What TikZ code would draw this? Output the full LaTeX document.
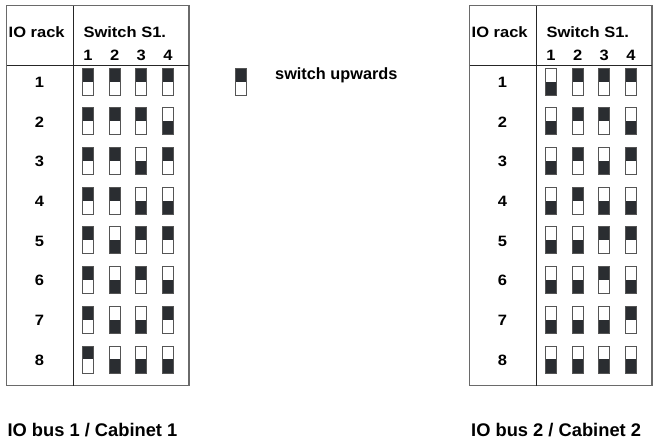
\documentclass[tikz,border=0pt]{standalone}
\usepackage{fontspec}
\setmainfont{Liberation Sans}
\newfontfamily\hdrfont[FakeStretch=1.1]{Liberation Sans}
\definecolor{swdark}{HTML}{2A2D31}
\definecolor{framegray}{HTML}{6A6A6A}
\definecolor{swedge}{HTML}{555555}
\newcommand\drawswitch[3]{%
  \ifnum#3=1
    \fill[swdark] ($(#1,#2)+(-5.5,-13.5)$) rectangle ($(#1,#2)+(5.5,0)$);
  \else
    \fill[swdark] ($(#1,#2)+(-5.5,0)$) rectangle ($(#1,#2)+(5.5,13.5)$);
  \fi
  \draw[swbox] ($(#1,#2)+(-5.5,-13.5)$) rectangle ($(#1,#2)+(5.5,13.5)$);}
\usetikzlibrary{calc}
\begin{document}
\begin{tikzpicture}[x=1pt,y=-1pt,
  outerframe/.style={draw=framegray,line width=1.4pt},
  innerline/.style={draw=black!85,line width=0.9pt},
  swbox/.style={draw=swedge,line width=0.8pt},
  hdrtext/.style={inner sep=0pt,font=\hdrfont\bfseries\fontsize{15}{17}\selectfont},
  legtext/.style={inner sep=0pt,font=\bfseries\fontsize{16.3}{18}\selectfont},
  bottext/.style={inner sep=0pt,font=\bfseries\fontsize{18.3}{20}\selectfont}]
\useasboundingbox (0,0) rectangle (671,442);
\fill[white] (0,0) rectangle (671,442);
\foreach \ox/\first/\tb/\lab in {0/1/L/1, 463/0/R/2}{
  \begin{scope}[xshift=\ox pt]
    \draw[outerframe] (6.7,5.5) rectangle (189,385.5);
    \draw[innerline] (73.3,5.5) -- (73.3,385.5);
    \draw[innerline] (6.7,65) -- (189,65);
    \node[hdrtext,anchor=base west] (rack\tb) at (8.5,37.7) {IO rack};
    \node[hdrtext,anchor=base west] (sw\tb) at (83.3,37.7) {Switch S1.};
    \foreach \k/\cx in {1/88,2/114.7,3/141.3,4/168}{
      \node[hdrtext,anchor=base] (num\tb\k) at (\cx,60) {\k};
    }
    \foreach \r/\b/\c/\d in {1/1/1/1,2/1/1/0,3/1/0/1,4/1/0/0,5/0/1/1,6/0/1/0,7/0/0/1,8/0/0/0}{
      \pgfmathsetmacro\cy{81.5+39.7*(\r-1)}
      \node[hdrtext,anchor=base] (row\tb\r) at (39.5,\cy+5.8) {\r};
      \drawswitch{88}{\cy}{\first}
      \drawswitch{114.7}{\cy}{\b}
      \drawswitch{141.3}{\cy}{\c}
      \drawswitch{168}{\cy}{\d}
    }
  \end{scope}
}
\drawswitch{240.5}{81.5}{1}
\node[legtext,anchor=base west] (legend) at (275,79.3) {switch upwards};
\node[bottext,anchor=base west] (bus1) at (7.3,436) {IO bus 1 / Cabinet 1};
\node[bottext,anchor=base west] (bus2) at (471,436) {IO bus 2 / Cabinet 2};
\end{tikzpicture}
\end{document}
